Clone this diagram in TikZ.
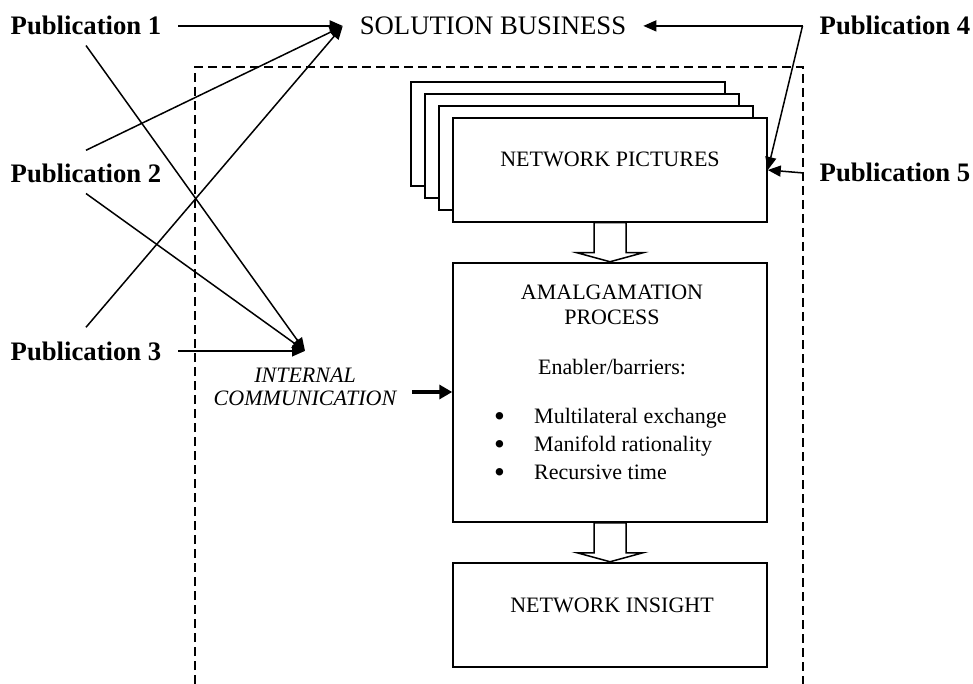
\documentclass[tikz,border=0pt]{standalone}
\usepackage{fontspec}
\setmainfont{Liberation Serif}
\usetikzlibrary{arrows.meta,calc}

\begin{document}
\begin{tikzpicture}[x=1pt, y=-1pt,
    pub/.style={font=\fontsize{26.7}{30}\selectfont\bfseries, inner xsep=17pt, inner ysep=10pt, anchor=base},
    box/.style={draw, line width=1.5pt, fill=white, minimum width=314pt, inner sep=0pt},
    txt/.style={font=\fontsize{22}{24.5}\selectfont, anchor=base},
    link/.style={line width=1.5pt, -{Triangle[length=13pt,width=11pt]}},
    blockarrow/.style={draw, line width=1.5pt, fill=white, line join=miter}]
    \useasboundingbox (0,0) rectangle (973,684);
    \draw[line width=1.3pt, dash pattern=on 9pt off 5pt] (195,684) -- (195,67) -- (803,67) -- (803,684);
    \node[pub] (pub1) at (86,35) {Publication 1};
    \node[pub] (pub2) at (86,183) {Publication 2};
    \node[pub] (pub3) at (86,360) {Publication 3};
    \node[pub] (pub4) at (895,35) {Publication 4};
    \node[pub] (pub5) at (895,182) {Publication 5};
    \node[pub, font=\fontsize{26.7}{30}\selectfont] (sol) at (493,35) {SOLUTION BUSINESS};
    \foreach \k in {3,2,1}
    \node[box, minimum height=104pt] (pic\k) at (610-14*\k,170-12*\k) {};
    \node[box, minimum height=104pt] (pic) at (610,170) {};
    \node[txt] (pictxt) at (610,167) {NETWORK PICTURES};
    \node[box, minimum height=259pt] (amal) at (610,392.5) {};
    \node[txt] (amal1) at (612,299) {AMALGAMATION};
    \node[txt] (amal2) at (612,324) {PROCESS};
    \node[txt] (enab) at (612,374) {Enabler/barriers:};
    \foreach \t [count=\i] in {Multilateral exchange, Manifold rationality, Recursive time} {
    \node[txt, anchor=base west, inner sep=0pt] (dot\i) at (494,395+28*\i) {\raisebox{-3pt}{\fontsize{31}{31}\selectfont\textbullet}};
    \node[txt, anchor=base west, inner sep=0pt] (item\i) at (534,395+28*\i) {\t};
    }
    \node[box, minimum height=104pt] (insight) at (610,615) {};
    \node[txt] (insighttxt) at (612,612) {NETWORK INSIGHT};
    \foreach \a in {pic, amal}
    \draw[blockarrow] ($(\a.south)+(-16,0)$) -- ++(0,30) -- ++(-17,0) -- ($(\a.south)+(0,39)$)
      -- ($(\a.south)+(33,30)$) -- ++(-17,0) -- ++(0,-30) -- cycle;
    \node[txt, font=\fontsize{22}{24.5}\selectfont\itshape] (int1) at (305,382) {INTERNAL};
    \node[txt, font=\fontsize{22}{24.5}\selectfont\itshape] (int2) at (305,405) {COMMUNICATION};
    \coordinate (inttip) at (pub3.east -| int1.north);
    \coordinate (icstart) at (412,392);
    \draw[link] (pub1.east) -- (pub1.east -| sol.west);
    \draw[link] ([yshift=4pt]pub2.north) -- (sol.west);
    \draw[link] ([yshift=4pt]pub3.north) -- (sol.west);
    \draw[link] (pub1.south) -- (inttip);
    \draw[link] (pub2.south) -- (inttip);
    \draw[link] (pub3.east) -- (inttip);
    \draw[link] (pub4.west) -- (pub4.west -| sol.east);
    \draw[link] (pub4.west) -- (pic.east);
    \draw[link] (pub5.west) -- (pic.east);
    \draw[line width=4pt, -{Triangle[length=13pt,width=14pt]}] (icstart) -- (icstart -| amal.west);
\end{tikzpicture}
\end{document}
